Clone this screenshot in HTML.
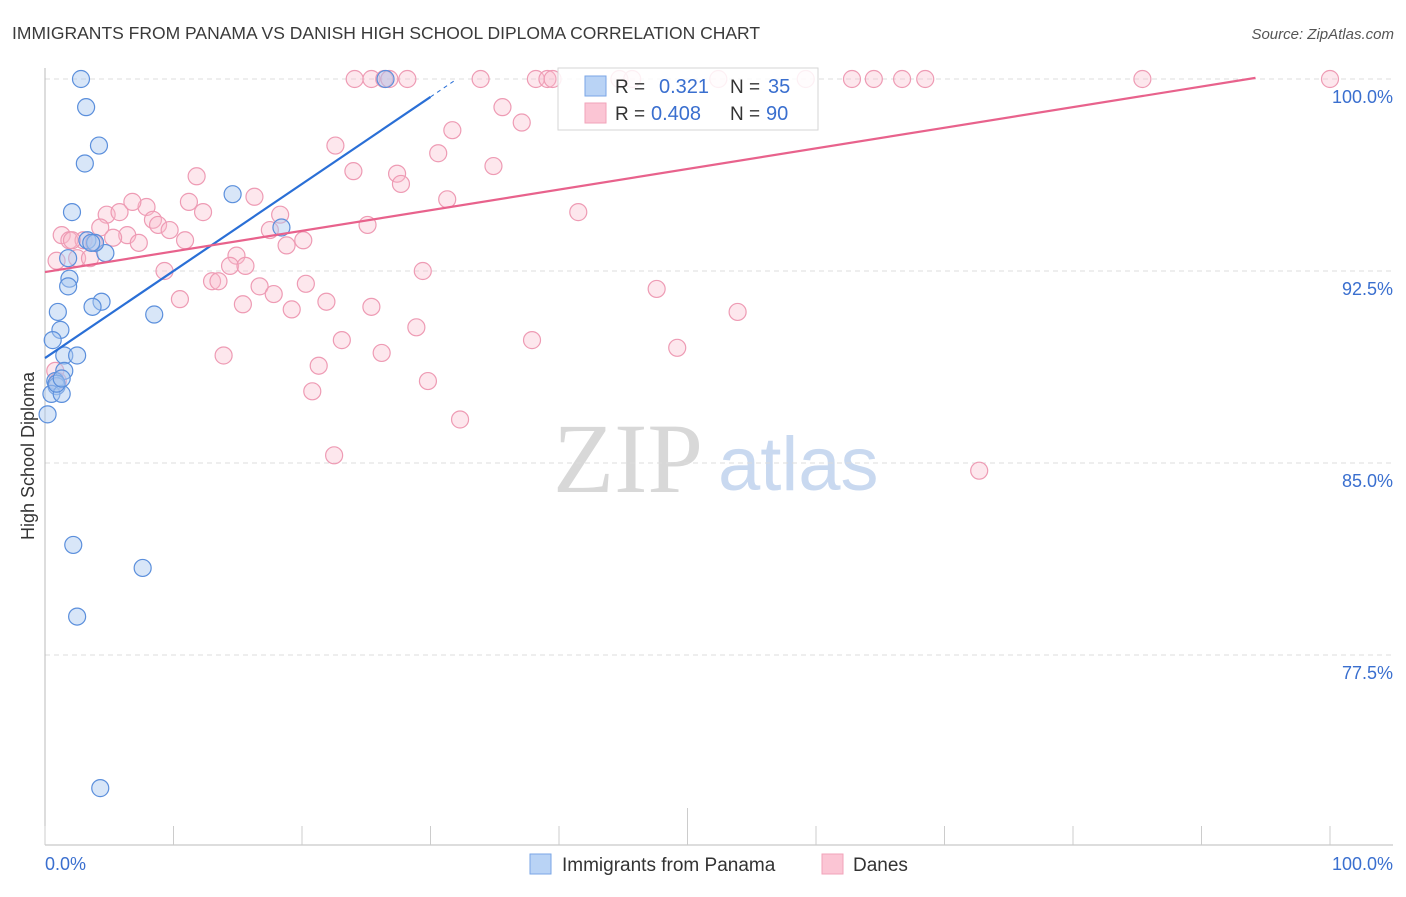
<!DOCTYPE html>
<html><head><meta charset="utf-8">
<style>
html,body{margin:0;padding:0;background:#fff;}
body{width:1406px;height:892px;overflow:hidden;font-family:"Liberation Sans",Arial,sans-serif;}
svg text{font-family:"Liberation Sans",Arial,sans-serif;}
svg text.wm-zip{font-family:"Liberation Serif",serif;}
</style></head>
<body>
<svg id="chart" width="1406" height="892" viewBox="0 0 1406 892">
<text x="12" y="39" font-size="17.5" fill="#3a3a3a">IMMIGRANTS FROM PANAMA VS DANISH HIGH SCHOOL DIPLOMA CORRELATION CHART</text>
<text x="1394" y="39" font-size="15" fill="#555" font-style="italic" text-anchor="end">Source: ZipAtlas.com</text>
<text x="34" y="456" font-size="18" fill="#333" text-anchor="middle" transform="rotate(-90 34 456)">High School Diploma</text>
<g>
<text class="wm-zip" x="553" y="492" font-size="100" fill="#d8d8d8">ZIP</text>
<text x="718" y="490" font-size="76" fill="#c9d9f0">atlas</text>
</g>
<g id="grid"></g>
<g id="axes"></g>
<g id="marks"></g>
<g id="trends"></g>
<g>
<rect x="558" y="68" width="260" height="62" fill="#fff" fill-opacity="0.85" stroke="#d6d6d6"/>
<rect x="585" y="76" width="21" height="20" fill="#b9d3f5" stroke="#7aa6e6"/>
<text x="615" y="93" font-size="19" fill="#333">R = </text>
<text x="659" y="93" font-size="20" fill="#3a6fcf">0.321</text>
<text x="730" y="93" font-size="19" fill="#333">N = </text>
<text x="768" y="93" font-size="20" fill="#3a6fcf">35</text>
<rect x="585" y="103" width="21" height="20" fill="#fbc5d4" stroke="#f1a3ba"/>
<text x="615" y="120" font-size="19" fill="#333">R = </text>
<text x="651" y="120" font-size="20" fill="#3a6fcf">0.408</text>
<text x="730" y="120" font-size="19" fill="#333">N = </text>
<text x="766" y="120" font-size="20" fill="#3a6fcf">90</text>
</g>
<g>
<rect x="530" y="854" width="21" height="20" fill="#b9d3f5" stroke="#7aa6e6"/>
<text x="562" y="871" font-size="19" fill="#333">Immigrants from Panama</text>
<rect x="822" y="854" width="21" height="20" fill="#fbc5d4" stroke="#f1a3ba"/>
<text x="853" y="871" font-size="19" fill="#333">Danes</text>
</g>
</svg>
<script>
const blueX=[2.8,3.2,4.2,3.1,2.1,14.6,18.4,3.3,4.7,1.8,1.9,1.8,4.4,3.7,1.0,1.2,8.5,0.6,1.5,2.5,1.5,0.8,0.9,0.5,1.3,0.2,2.2,7.6,2.5,4.3,26.5,3.9,0.9,3.6,1.3];
const blueY=[100,98.9,97.4,96.7,94.8,95.5,94.2,93.7,93.2,93.0,92.2,91.9,91.3,91.1,90.9,90.2,90.8,89.8,89.2,89.2,88.6,88.2,88.0,87.7,87.7,86.9,81.8,80.9,79.0,72.3,100,93.6,88.1,93.6,88.3];
const pinkX=[24.1,25.4,26.4,26.8,28.2,33.9,38.2,39.1,39.5,44.7,45.7,52.4,59.2,62.8,64.5,66.7,68.5,85.4,100,
35.6,37.1,31.7,30.6,22.6,24.0,27.4,27.7,34.9,31.3,41.5,11.8,16.3,18.3,25.1,4.8,5.8,7.9,6.8,12.3,11.2,8.4,8.8,9.7,4.3,1.3,1.9,3.0,6.4,7.3,5.3,10.9,3.8,18.8,20.1,17.5,0.9,2.5,3.5,14.9,14.4,15.6,9.3,29.4,13.0,13.5,16.7,17.8,20.3,10.5,15.4,19.2,21.9,25.4,28.9,47.6,53.9,23.1,26.2,37.9,49.2,13.9,21.3,20.8,29.8,32.3,22.5,72.7,0.8,1.0,2.1];
const pinkY=[100,100,100,100,100,100,100,100,100,100,100,100,100,100,100,100,100,100,100,
98.9,98.3,98.0,97.1,97.4,96.4,96.3,95.9,96.6,95.3,94.8,96.2,95.4,94.7,94.3,94.7,94.8,95.0,95.2,94.8,95.2,94.5,94.3,94.1,94.2,93.9,93.7,93.7,93.9,93.6,93.8,93.7,93.6,93.5,93.7,94.1,92.9,93.0,93.0,93.1,92.7,92.7,92.5,92.5,92.1,92.1,91.9,91.6,92.0,91.4,91.2,91.0,91.3,91.1,90.3,91.8,90.9,89.8,89.3,89.8,89.5,89.2,88.8,87.8,88.2,86.7,85.3,84.7,88.6,88.2,93.7];
const yTicks=[100,92.5,85,77.5];
const yTickLabels=["100.0%","92.5%","85.0%","77.5%"];
const xTicks=[0,10,20,30,40,50,60,70,80,90,100];
const xTickLabels=["0.0%","100.0%"];
const trendIntercept=[89.1,92.46];
const trendSlope=[0.34,0.0805];
const trendEnd=[30,94.2];

const NS="http://www.w3.org/2000/svg";
const X=v=>45+v*12.85;
const Y=v=>79+(100-v)*25.6;
function mk(tag,attrs,parent){const e=document.createElementNS(NS,tag);for(const k in attrs)e.setAttribute(k,attrs[k]);parent.appendChild(e);return e;}
const grid=document.getElementById('grid'),axes=document.getElementById('axes'),marks=document.getElementById('marks'),trends=document.getElementById('trends');
yTicks.forEach((t,i)=>{
  const l=mk('line',{x1:45,x2:1393,y1:Y(t),y2:Y(t),stroke:'#dcdcdc','stroke-dasharray':'5,4'},grid);
  
  
  const tx=mk('text',{x:1393,y:Y(t)+24,'font-size':18,fill:'#3a6fcf','text-anchor':'end'},axes);
  tx.textContent=yTickLabels[i];
  
  
});
const ya=mk('line',{x1:45,x2:45,y1:68,y2:845,stroke:'#bbb'},axes);


const xa=mk('line',{x1:45,x2:1393,y1:845,y2:845,stroke:'#bbb'},axes);


xTicks.forEach((t,i)=>{
  const tk=mk('line',{x1:X(t),x2:X(t),y1:(t===50?808:826),y2:845,stroke:'#ccc'},axes);
  
  
});
[[0,'start'],[100,'end']].forEach((p,i)=>{
  const tx=mk('text',{x:(i==0?X(p[0]):1393),y:870,'font-size':18,fill:'#3a6fcf','text-anchor':p[1]},axes);
  tx.textContent=xTickLabels[i];
  
  
});
pinkX.forEach((x,i)=>{
  const c=mk('circle',{cx:X(x),cy:Y(pinkY[i]),r:8.5,fill:'#f9b9cb','fill-opacity':0.35,stroke:'#ee9bb4','stroke-width':1.2},marks);
  
  
});
blueX.forEach((x,i)=>{
  const c=mk('circle',{cx:X(x),cy:Y(blueY[i]),r:8.5,fill:'#a9c8f0','fill-opacity':0.45,stroke:'#5b8fdc','stroke-width':1.2},marks);
  
  
});
const colors=['#2a6fd6','#e8628c'];
trendIntercept.forEach((b,i)=>{
  const m=trendSlope[i],e=trendEnd[i];
  const l=mk('line',{x1:X(0),y1:Y(b),x2:X(e),y2:Y(b+m*e),stroke:colors[i],'stroke-width':2.2},trends);
  
  
  if(i==0){
    const xe=(100-b)/m;
    const d=mk('line',{x1:X(e),y1:Y(b+m*e),x2:X(xe),y2:Y(100),stroke:colors[i],'stroke-width':1,'stroke-dasharray':'4,4'},trends);
    
    
  }
});
</script>
</body></html>
